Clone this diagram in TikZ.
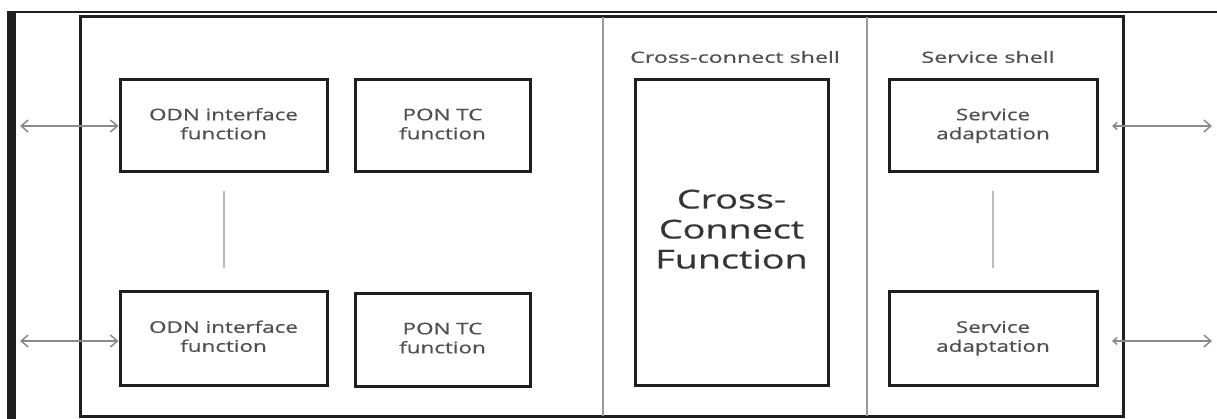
\documentclass[tikz,border=0pt]{standalone}
\usepackage{fontspec}
\setmainfont{Open Sans}
\newfontfamily\medfont{Open Sans}[FakeBold=0.5]
\usetikzlibrary{arrows.meta}
\definecolor{txtgray}{HTML}{505050}
\definecolor{boxblack}{HTML}{1E1E1E}
\definecolor{divgray}{HTML}{9A9A9A}
\definecolor{linkgray}{HTML}{BBBBBB}
\definecolor{arrgray}{HTML}{8A8A8A}
\newcommand{\wtxt}[2]{\scalebox{#1}[1]{\begin{tabular}{@{}c@{}}#2\end{tabular}}}
\begin{document}
\begin{tikzpicture}[x=1pt,y=-1pt,
  fbox/.style={draw=boxblack,line width=3pt,inner sep=0pt,text=txtgray,
    font=\medfont\fontsize{16}{19}\selectfont},
  shelltxt/.style={text=txtgray,font=\medfont\fontsize{15.5}{17}\selectfont,inner sep=0pt},
  link/.style={draw=linkgray,line width=2pt},
  ioarrow/.style={draw=arrgray,line width=1.5pt,{Straight Barb[length=7pt,width=12pt]}-{Straight Barb[length=7pt,width=12pt]}}]
\useasboundingbox (0,0) rectangle (1217,419);
\fill[white] (0,0) rectangle (1217,419);
% page frame
\fill[boxblack] (7,11) rectangle (16,419);
\draw[boxblack,line width=2pt] (7,12) -- (1217,12);
% outer box
\node[draw=boxblack,line width=3pt,minimum width=1043pt,minimum height=399pt,inner sep=0pt] (outer) at (601.5,216.5) {};
% dividers
\coordinate (d1t) at (603,17); \coordinate (d1b) at (603,416);
\coordinate (d2t) at (867,17); \coordinate (d2b) at (867,416);
\draw[divgray,line width=2.5pt] (d1t) -- (d1b);
\draw[divgray,line width=2.5pt] (d2t) -- (d2b);
% shell labels
\node[shelltxt] (ccshell) at (735,57) {\scalebox{1.5}[1]{Cross-connect shell}};
\node[shelltxt] (svshell) at (988,57) {\scalebox{1.5}[1]{Service shell}};
% boxes
\node[fbox,minimum width=207pt,minimum height=92pt] (odn1) at (223.5,126) {\wtxt{1.4}{ODN interface\\function}};
\node[fbox,minimum width=175pt,minimum height=92pt] (pon1) at (442.5,126) {\wtxt{1.4}{PON TC\\function}};
\node[fbox,minimum width=207pt,minimum height=93pt] (odn2) at (223.5,338.5) {\wtxt{1.4}{ODN interface\\function}};
\node[fbox,minimum width=175pt,minimum height=92pt] (pon2) at (442.5,340) {\wtxt{1.4}{PON TC\\function}};
\node[fbox,minimum width=193pt,minimum height=305pt,text=boxblack!90,font=\medfont\fontsize{26}{30}\selectfont] (cc) at (731.5,232.5) {\raisebox{-4pt}{\wtxt{1.45}{Cross-\\Connect\\Function}}};
\node[fbox,minimum width=208pt,minimum height=92pt] (sa1) at (993,126) {\wtxt{1.4}{Service\\adaptation}};
\node[fbox,minimum width=208pt,minimum height=93pt] (sa2) at (993,338.5) {\wtxt{1.4}{Service\\adaptation}};
% vertical links
\draw[link,shorten <=18pt,shorten >=22pt] (odn1.south) -- (odn2.north);
\draw[link,shorten <=18pt,shorten >=22pt] (sa1.south) -- (sa2.north);
% io arrows
\coordinate (l1) at (20,126); \coordinate (l2) at (20,341);
\coordinate (r1a) at (1112,126); \coordinate (r1b) at (1212,126);
\coordinate (r2a) at (1112,341); \coordinate (r2b) at (1212,341);
\draw[ioarrow] (l1) -- (odn1.west);
\draw[ioarrow] (l2) -- (odn2.west |- l2);
\draw[ioarrow,{Straight Barb[length=4pt,width=7pt]}-{Straight Barb[length=7pt,width=12pt]}] (r1a) -- (r1b);
\draw[ioarrow,{Straight Barb[length=4pt,width=7pt]}-{Straight Barb[length=7pt,width=12pt]}] (r2a) -- (r2b);
\end{tikzpicture}
\end{document}
